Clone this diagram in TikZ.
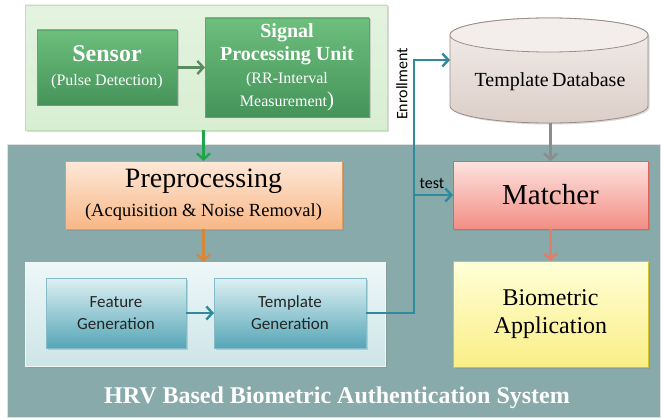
\documentclass[tikz,border=0pt]{standalone}
\usepackage{fontspec}
\setmainfont{Liberation Serif}
\newfontfamily\calib{Carlito}
\usetikzlibrary{arrows.meta,shadows}
\definecolor{tealbg}{HTML}{89AAAB}
\definecolor{gpanel}{HTML}{D8EED2}
\definecolor{gpanelb}{HTML}{BDE0B5}
\definecolor{gtop}{HTML}{6DBF7C}
\definecolor{gbot}{HTML}{45935A}
\definecolor{gbord}{HTML}{5AA86A}
\definecolor{otop}{HTML}{FDE8D8}
\definecolor{obot}{HTML}{F8B787}
\definecolor{obord}{HTML}{E49A5C}
\definecolor{btop}{HTML}{EEF7F8}
\definecolor{bbot}{HTML}{CDE5E8}
\definecolor{ftop}{HTML}{DDF0F3}
\definecolor{fbot}{HTML}{56A6B7}
\definecolor{fbord}{HTML}{86BCC7}
\definecolor{mtop}{HTML}{FDE3E0}
\definecolor{mbot}{HTML}{F28E84}
\definecolor{mbord}{HTML}{D9665C}
\definecolor{ytop}{HTML}{FFFFD8}
\definecolor{ybot}{HTML}{FAEE86}
\definecolor{ybord}{HTML}{D4C230}
\definecolor{ctop}{HTML}{F3EEEB}
\definecolor{cbot}{HTML}{DCCEC8}
\definecolor{cbord}{HTML}{9A8E88}
\definecolor{tealln}{HTML}{2F8A9C}
\definecolor{garrow}{HTML}{1DA64A}
\definecolor{oarrow}{HTML}{D4883C}
\definecolor{grarrow}{HTML}{8C8C8C}
\definecolor{sarrow}{HTML}{E0806C}
\definecolor{sgarrow}{HTML}{5B8A5E}
\begin{document}
\begin{tikzpicture}[x=1pt,y=-1pt,
  every node/.style={inner sep=0pt, outer sep=0pt},
  shad/.style={drop shadow={opacity=0.3, shadow xshift=1.5pt, shadow yshift=-1.5pt}},
  box/.style={rectangle, draw, line width=0.8pt, align=center, shad},
  greenbox/.style={box, top color=gtop, bottom color=gbot, draw=gbord, text=white},
  featbox/.style={box, top color=ftop, bottom color=fbot, draw=fbord, text=black!85,
    font=\calib\fontsize{17}{22}\selectfont},
  arr/.style={line width=2.6pt, -{Straight Barb[length=6pt,width=13pt,line width=2.4pt]}},
  lbl/.style={font=\calib\fontsize{16}{18}\selectfont, text=black}
]
\useasboundingbox (0,0) rectangle (662,420);
\fill[white] (0,0) rectangle (662,420);

% background panels
\node[rectangle, draw=gray!25, line width=1pt, fill=tealbg, minimum width=653, minimum height=273] (bg) at (333.5,280.5) {};
\node[box, top color=gpanel!70!white, bottom color=gpanel, draw=gpanelb, minimum width=362, minimum height=125] (gpan) at (206,67.5) {};
\node[box, top color=btop, bottom color=bbot, draw=white!90!tealbg, minimum width=360, minimum height=104] (bpan) at (205,314) {};

% top boxes
\node[greenbox, minimum width=140, minimum height=75, font=\fontsize{16}{24}\selectfont] (sensor) at (107,67.5)
  {{\fontsize{24}{24}\selectfont\bfseries Sensor}\\(Pulse Detection)};
\node[greenbox, minimum width=164, minimum height=99, font=\fontsize{16}{23}\selectfont] (signal) at (287,67.5)
  {{\fontsize{20}{23}\selectfont\bfseries Signal}\\{\fontsize{20}{23}\selectfont\bfseries Processing Unit}\\(RR-Interval\\Measurement{\fontsize{21}{23}\selectfont)}};

% preprocessing
\node[box, top color=otop, bottom color=obot, draw=obord, minimum width=277, minimum height=68, font=\fontsize{18.5}{29}\selectfont] (prep) at (203.5,195)
  {{\fontsize{28}{29}\selectfont Preprocessing}\\(Acquisition \& Noise Removal)};

% feature boxes
\node[featbox, minimum width=140, minimum height=70] (feat) at (116,313) {Feature\\Generation};
\node[featbox, minimum width=152, minimum height=70] (tgen) at (290,313) {Template\\Generation};

% matcher and application
\node[box, top color=mtop, bottom color=mbot, draw=mbord, minimum width=195, minimum height=68, font=\fontsize{29}{30}\selectfont] (match) at (550.5,195) {Matcher};
\node[box, top color=ytop, bottom color=ybot, draw=ybord, minimum width=195, minimum height=106, font=\fontsize{24}{28}\selectfont] (bio) at (550.5,314) {Biometric\\Application};

% database cylinder
\path[shad, top color=ctop, bottom color=cbot, draw=cbord, line width=0.8pt]
  (450,35) -- (450,106) arc[start angle=180, end angle=0, x radius=99, y radius=17]
  -- (648,35) arc[start angle=0, end angle=-180, x radius=99, y radius=17] -- cycle;
\draw[cbord, fill=ctop, line width=0.8pt] (549,35) ellipse[x radius=99, y radius=17];
\node[font=\fontsize{20}{22}\selectfont] (db) at (550,82) {Template\,Database};
\coordinate (dbin) at (450,60);
\coordinate (dbout) at (550.5,123);
\coordinate (up) at (414,60);

% connectors
\draw[arr, sgarrow] (sensor) -- (signal);
\draw[arr, garrow] (prep.north |- gpan.south) -- (prep.north);
\draw[arr, oarrow] (prep.south) -- (prep.south |- bpan.north);
\draw[arr, tealln] (feat) -- (tgen);
\draw[arr, tealln] (tgen.east) -| (up) -- (dbin);
\draw[arr, tealln] (match.west -| up) -- (match.west);
\draw[arr, grarrow] (dbout) -- (match.north);
\draw[arr, sarrow] (match.south) -- (bio.north);

% labels
\node[lbl, rotate=90] (enr) at (402,84) {Enrollment};
\node[lbl] (test) at (432,183) {test};
\node[font=\fontsize{24}{26}\selectfont\bfseries, text=white] (title) at (337,398) {HRV Based Biometric Authentication System};
\end{tikzpicture}
\end{document}
